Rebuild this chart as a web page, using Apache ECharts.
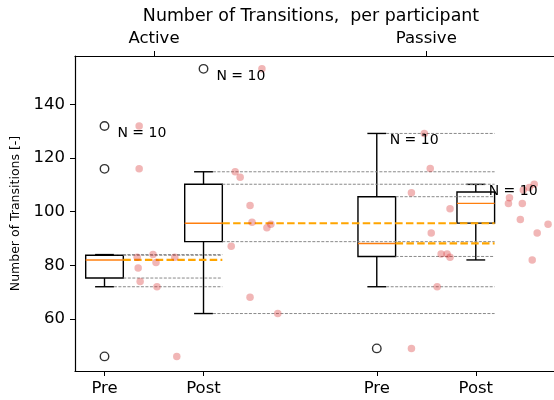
<!DOCTYPE html>
<html>
<head>
<meta charset="utf-8">
<script src="https://cdn.jsdelivr.net/npm/echarts@6/dist/echarts.min.js"></script>
<style>
  html, body { margin: 0; padding: 0; background: #ffffff; }
  #chart { width: 554px; height: 400px; }
</style>
</head>
<body>
<div id="chart"></div>
<script>
// Number of transitions per participant: Active / Passive, Pre / Post

const groupLabels = ['Active', 'Passive'];
const groupTicks = [1.5, 4.25];
const phaseLabels = ['Pre', 'Post', 'Pre', 'Post'];
const positions = [1, 2, 3.75, 4.75];
const yTicks = [60, 80, 100, 120, 140];

const activePre   = [132, 116, 83, 84, 81, 83, 79, 74, 72, 46];
const activePost  = [153.3, 102.3, 96.1, 94, 95.3, 87.1, 68.1, 114.9, 112.9, 62];
const passivePre  = [129.2, 116.1, 107.1, 101.1, 92.1, 84.2, 84.2, 83, 72, 49];
const passivePost = [110.2, 109, 108.1, 105.2, 103.1, 103.1, 97.1, 95.3, 92.1, 82];

// horizontal offset of each participant's dot, right of its box
const activePreJitter   = [0.35, 0.35, 0.33, 0.49, 0.52, 0.71, 0.34, 0.36, 0.53, 0.73];
const activePostJitter  = [0.59, 0.47, 0.49, 0.64, 0.68, 0.28, 0.47, 0.32, 0.37, 0.75];
const passivePreJitter  = [0.48, 0.54, 0.35, 0.74, 0.55, 0.65, 0.71, 0.74, 0.61, 0.35];
const passivePostJitter = [0.59, 0.54, 0.48, 0.34, 0.33, 0.47, 0.45, 0.73, 0.62, 0.57];

// index of the box whose right edge each box's reference lines run to
const refTargets = [1, 3, 3, null];

const groups = [activePre, activePost, passivePre, passivePost];
const jitters = [activePreJitter, activePostJitter, passivePreJitter, passivePostJitter];

const BOX_HALF = 0.19;
const CAP_HALF = 0.095;
const FONT = 'DejaVu Sans';

function quantile(sorted, p) {
  const idx = (sorted.length - 1) * p;
  const lo = Math.floor(idx);
  const hi = Math.min(lo + 1, sorted.length - 1);
  return sorted[lo] + (sorted[hi] - sorted[lo]) * (idx - lo);
}

function boxStats(values) {
  const s = values.slice().sort((a, b) => a - b);
  const q1 = quantile(s, 0.25), med = quantile(s, 0.5), q3 = quantile(s, 0.75);
  const iqr = q3 - q1;
  const inside = s.filter(v => v >= q1 - 1.5 * iqr && v <= q3 + 1.5 * iqr);
  return {
    q1, med, q3,
    lo: inside[0],
    hi: inside[inside.length - 1],
    fliers: s.filter(v => v < q1 - 1.5 * iqr || v > q3 + 1.5 * iqr),
    max: s[s.length - 1],
    n: s.length
  };
}

const stats = groups.map(boxStats);

const boxData = stats.map((st, i) => [positions[i], st.lo, st.q1, st.med, st.q3, st.hi]);

const flierData = [];
stats.forEach((st, i) => st.fliers.forEach(v => flierData.push([positions[i], v])));

const pointData = [];
groups.forEach((vals, i) => vals.forEach((v, k) => pointData.push([positions[i] + jitters[i][k], v])));

// [x start, x end, y, kind] kind 0 = grey quartile/whisker, 1 = orange median
const refLineData = [];
stats.forEach((st, i) => {
  const t = refTargets[i];
  if (t === null) return;
  const end = positions[t] + BOX_HALF;
  const p = positions[i];
  refLineData.push([p + CAP_HALF, end, st.hi, 0]);
  refLineData.push([p + BOX_HALF, end, st.q3, 0]);
  refLineData.push([p + BOX_HALF, end, st.q1, 0]);
  refLineData.push([p + CAP_HALF, end, st.lo, 0]);
  refLineData.push([p + BOX_HALF, end, st.med, 1]);
});

const nLabelData = stats.map((st, i) => [positions[i] + 0.13, st.max, st.n]);

function renderBox(params, api) {
  const x = api.value(0);
  const lo = api.value(1), q1 = api.value(2), med = api.value(3), q3 = api.value(4), hi = api.value(5);
  const tl = api.coord([x - BOX_HALF, q3]);
  const br = api.coord([x + BOX_HALF, q1]);
  const c = api.coord([x, med]);
  const pHi = api.coord([x, hi]);
  const pLo = api.coord([x, lo]);
  const capL = api.coord([x - CAP_HALF, hi])[0];
  const capR = api.coord([x + CAP_HALF, hi])[0];
  const stroke = { stroke: '#000000', lineWidth: 1.4, fill: null };
  return {
    type: 'group',
    children: [
      { type: 'line', shape: { x1: c[0], y1: tl[1], x2: c[0], y2: pHi[1] }, style: stroke },
      { type: 'line', shape: { x1: c[0], y1: br[1], x2: c[0], y2: pLo[1] }, style: stroke },
      { type: 'line', shape: { x1: capL, y1: pHi[1], x2: capR, y2: pHi[1] }, style: stroke },
      { type: 'line', shape: { x1: capL, y1: pLo[1], x2: capR, y2: pLo[1] }, style: stroke },
      { type: 'rect', shape: { x: tl[0], y: tl[1], width: br[0] - tl[0], height: br[1] - tl[1] }, style: stroke },
      { type: 'line', shape: { x1: tl[0], y1: c[1], x2: br[0], y2: c[1] }, style: { stroke: '#ff7f0e', lineWidth: 1.4 } }
    ]
  };
}

function renderRefLine(params, api) {
  const a = api.coord([api.value(0), api.value(2)]);
  const b = api.coord([api.value(1), api.value(2)]);
  const median = api.value(3) === 1;
  return {
    type: 'line',
    shape: { x1: a[0], y1: a[1], x2: b[0], y2: b[1] },
    style: median
      ? { stroke: '#ffa500', lineWidth: 2.2, lineDash: [7.5, 3.3] }
      : { stroke: '#8a8a8a', lineWidth: 1, lineDash: [3, 1.5] }
  };
}

function renderNLabel(params, api) {
  const p = api.coord([api.value(0), api.value(1)]);
  return {
    type: 'text',
    x: p[0], y: p[1],
    style: {
      text: 'N = ' + api.value(2),
      fill: '#000000',
      font: '14px "' + FONT + '"',
      align: 'left',
      verticalAlign: 'top'
    }
  };
}

const chart = echarts.init(document.getElementById('chart'), null, { renderer: 'canvas' });

const xMin = 0.702;
const xMax = 5.54;

chart.setOption({
  animation: false,
  backgroundColor: '#ffffff',
  textStyle: { fontFamily: FONT },
  title: {
    text: 'Number of Transitions,  per participant',
    left: 306,
    top: 3,
    textAlign: 'center',
    textStyle: { fontFamily: FONT, fontSize: 17.4, fontWeight: 'normal', color: '#000000' }
  },
  grid: { left: 75, top: 56, right: 0, bottom: 29, containLabel: false, outerBoundsMode: 'none' },
  xAxis: [
    {
      type: 'value', position: 'bottom', min: xMin, max: xMax,
      axisLine: { show: true, onZero: false, lineStyle: { color: '#000000', width: 1.2 } },
      axisTick: { show: true, inside: false, length: 5, customValues: positions, lineStyle: { color: '#000000', width: 1 } },
      axisLabel: {
        show: true, margin: 9, customValues: positions,
        fontFamily: FONT, fontSize: 16.5, color: '#000000',
        formatter: v => phaseLabels[positions.indexOf(v)]
      },
      splitLine: { show: false }
    },
    {
      type: 'value', position: 'top', min: xMin, max: xMax,
      axisLine: { show: true, onZero: false, lineStyle: { color: '#000000', width: 1.2 } },
      axisTick: { show: true, inside: false, length: 5, customValues: groupTicks, lineStyle: { color: '#000000', width: 1 } },
      axisLabel: {
        show: true, margin: 9, customValues: groupTicks,
        fontFamily: FONT, fontSize: 16.5, color: '#000000',
        formatter: v => groupLabels[groupTicks.indexOf(v)]
      },
      splitLine: { show: false }
    }
  ],
  yAxis: {
    type: 'value', min: 40.56, max: 158.1,
    name: 'Number of Transitions [-]',
    nameLocation: 'middle', nameGap: 48, nameRotate: 90,
    nameTextStyle: { fontFamily: FONT, fontSize: 12.5, color: '#000000' },
    axisLine: { show: true, onZero: false, lineStyle: { color: '#000000', width: 1.2 } },
    axisTick: { show: true, inside: false, length: 5, customValues: yTicks, lineStyle: { color: '#000000', width: 1 } },
    axisLabel: {
      show: true, margin: 10, customValues: yTicks,
      fontFamily: FONT, fontSize: 16.5, color: '#000000'
    },
    splitLine: { show: false }
  },
  series: [
    {
      name: 'box', type: 'custom', renderItem: renderBox, data: boxData,
      encode: { x: 0, y: [1, 2, 3, 4, 5] }, z: 3, silent: true
    },
    {
      name: 'reference', type: 'custom', renderItem: renderRefLine, data: refLineData,
      encode: { x: [0, 1], y: 2 }, z: 4, silent: true
    },
    {
      name: 'outliers', type: 'scatter', data: flierData, symbol: 'circle', symbolSize: 8.5,
      itemStyle: { color: 'rgba(255,255,255,0)', borderColor: '#000000', borderWidth: 1.4 },
      z: 5, silent: true
    },
    {
      name: 'participants', type: 'scatter', data: pointData, symbol: 'circle', symbolSize: 7.5,
      itemStyle: { color: 'rgba(214,39,40,0.42)', borderWidth: 0 },
      z: 6, silent: true
    },
    {
      name: 'count', type: 'custom', renderItem: renderNLabel, data: nLabelData,
      encode: { x: 0, y: 1 }, z: 7, silent: true
    }
  ]
});
</script>
</body>
</html>
